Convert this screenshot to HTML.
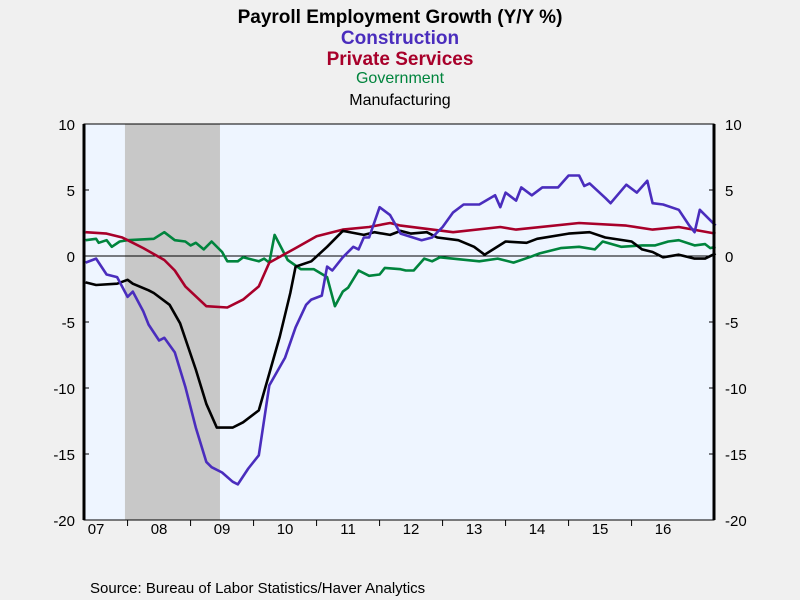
<!DOCTYPE html>
<html><head><meta charset="utf-8"><style>
body{margin:0;background:#f0f0f0;font-family:"Liberation Sans",sans-serif}
svg{display:block}
</style></head><body>
<svg id="chart" width="800" height="600" xmlns="http://www.w3.org/2000/svg">
<rect width="800" height="600" fill="#f0f0f0"/>
<text x="400" y="23" text-anchor="middle" font-size="19" font-weight="bold">Payroll Employment Growth (Y/Y %)</text>
<text x="400" y="44" text-anchor="middle" font-size="19" font-weight="bold" fill="#4a2dbd">Construction</text>
<text x="400" y="65" text-anchor="middle" font-size="19" font-weight="bold" fill="#a8002a">Private Services</text>
<text x="400" y="83" text-anchor="middle" font-size="16" fill="#00843d">Government</text>
<text x="400" y="105" text-anchor="middle" font-size="16" fill="#000">Manufacturing</text>
<text x="90" y="593" font-size="15">Source:  Bureau of Labor Statistics/Haver Analytics</text>
<g id="plot"></g>
</svg>
<script>
const yTicks=[10,5,0,-5,-10,-15,-20];
const yearLabels=["07","08","09","10","11","12","13","14","15","16"];
const recession=[11.5,29.6]; // months since Jan 2007
const consM=[4,6,8,10,12,13,15,16,18,19,21,23,25,27,28,30,32,33,35,37,39,42,44,46,47,49,50,51,53,55,56,57,58,60,62,64,68,70,72,74,76,79,82,83,84,86,87,89,91,94,96,98,99,100,103,104,107,109,111,112,114,117,119,120,121,124];
const consV=[-0.5,-0.2,-1.4,-1.6,-3.1,-2.7,-4.2,-5.2,-6.4,-6.2,-7.3,-9.9,-13,-15.6,-16,-16.4,-17.1,-17.3,-16.1,-15.1,-9.8,-7.7,-5.4,-3.7,-3.3,-3.0,-0.8,-1.1,-0.1,0.7,0.5,1.4,1.4,3.7,3.1,1.7,1.2,1.4,2.2,3.3,3.9,3.9,4.6,3.7,4.8,4.2,5.2,4.6,5.2,5.2,6.1,6.1,5.3,5.5,4.4,4.0,5.4,4.8,5.7,4.0,3.9,3.5,2.3,1.8,3.5,2.3];
const servM=[4,8,11,15,19,21,23,27,31,34,37,39,44,48,53,58,62,64,74,83,86,98,107,112,117,124];
const servV=[1.8,1.7,1.4,0.6,-0.3,-1.1,-2.3,-3.8,-3.9,-3.3,-2.3,-0.5,0.6,1.5,2.0,2.2,2.5,2.3,1.8,2.2,2.0,2.5,2.3,2.0,2.2,1.7];
const govM=[4,6,6.5,8,9,10.5,12,17,19,21,23,24,25,26.5,28,30,31,33,34,37,38,39,40,42.5,45,47.5,50,51.5,53,54,56,58,60,61,64,65,66.5,68.5,70,71.5,79,82.5,85.5,88.5,90.5,94.5,98,101,102.5,106,110,112.5,115,117,120,122,123,124];
const govV=[1.2,1.3,1.0,1.2,0.7,1.1,1.2,1.3,1.8,1.2,1.1,0.8,1.0,0.5,1.1,0.3,-0.4,-0.4,-0.1,-0.4,-0.2,-0.5,1.6,-0.3,-1.0,-1.0,-1.6,-3.8,-2.7,-2.4,-1.1,-1.5,-1.4,-0.9,-1.0,-1.1,-1.1,-0.2,-0.4,-0.1,-0.4,-0.2,-0.5,-0.1,0.2,0.6,0.7,0.5,1.1,0.7,0.8,0.8,1.1,1.2,0.8,0.9,0.6,0.7];
const mfgM=[4,6,10,12,13,16,17,20,22,25,27,29,32,34,37,39,41,43,44,47,50,53,57,59,62,64,66,69,71,75,78,80,82,84,88,90,96,100,103,108,110,112,114,117,120,122,124];
const mfgV=[-2.0,-2.2,-2.1,-1.8,-2.1,-2.6,-2.8,-3.7,-5.1,-8.6,-11.2,-13.0,-13.0,-12.6,-11.7,-8.9,-6.1,-2.8,-0.8,-0.4,0.7,1.9,1.6,1.8,1.6,1.9,1.7,1.8,1.4,1.2,0.7,0.1,0.6,1.1,1.0,1.3,1.7,1.8,1.4,1.1,0.5,0.3,-0.1,0.1,-0.2,-0.2,0.2];

const NS="http://www.w3.org/2000/svg";
const L=84,R=714,T=124,B=520,mMin=3.7,mMax=123.7;
const xs=m=>L+(m-mMin)*(R-L)/(mMax-mMin);
const ys=v=>T+(10-v)*(B-T)/30;
const g=document.getElementById('plot');
function mk(tag,attrs){const e=document.createElementNS(NS,tag);for(const k in attrs)e.setAttribute(k,attrs[k]);g.appendChild(e);return e;}
let e;
e=mk('rect',{x:L,y:T,width:R-L,height:B-T,fill:'#eef5ff'});


e=mk('rect',{x:xs(recession[0]),y:T,width:xs(recession[1])-xs(recession[0]),height:B-T,fill:'#c8c8c8'});


e=mk('line',{x1:L,x2:R,y1:ys(0),y2:ys(0),stroke:'#000','stroke-width':1});


yTicks.forEach(v=>{
 const y=ys(v);
 let t=mk('text',{x:L-9,y:y+6,'text-anchor':'end','font-size':15});t.textContent=v;
 
 
 t=mk('text',{x:R+11,y:y+6,'font-size':15});t.textContent=v;
 
 
 mk('line',{x1:L,x2:L+5,y1:y,y2:y,stroke:'#000'});
 mk('line',{x1:R-5,x2:R,y1:y,y2:y,stroke:'#000'});
});
yearLabels.forEach((lab,i)=>{
 const t=mk('text',{x:xs(i*12+6),y:534,'text-anchor':'middle','font-size':15});t.textContent=lab;
 
 
 if(i>0) mk('line',{x1:xs(i*12),x2:xs(i*12),y1:B,y2:B+6,stroke:'#000'});
});
function series(M,V,col,name){
 const d=M.map((m,i)=>(i?'L':'M')+xs(m).toFixed(1)+','+ys(V[i]).toFixed(1)).join('');
 const p=mk('path',{d:d,fill:'none',stroke:col,'stroke-width':2.6,'stroke-linejoin':'round'});
 
 
}
series(govM,govV,'#00843d','government-line');
series(servM,servV,'#a8002a','private-services-line');
series(mfgM,mfgV,'#000','manufacturing-line');
series(consM,consV,'#4a2dbd','construction-line');
e=mk('rect',{x:L,y:T,width:R-L,height:B-T,fill:'none',stroke:'#000','stroke-width':1});


mk('line',{x1:L,x2:L,y1:T,y2:B,stroke:'#000','stroke-width':3});
mk('line',{x1:R,x2:R,y1:T,y2:B,stroke:'#000','stroke-width':3});
</script>
</body></html>
